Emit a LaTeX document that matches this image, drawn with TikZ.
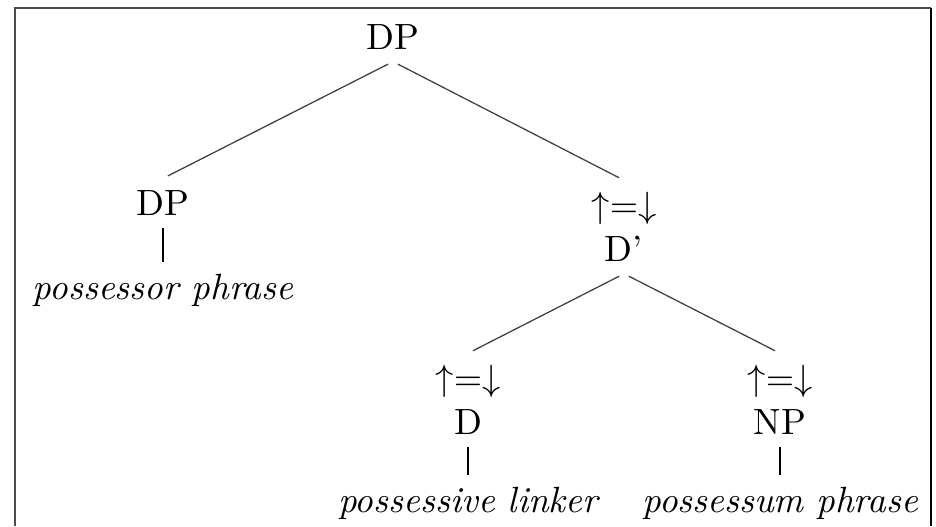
\documentclass[tikz,border=0pt]{standalone}
\usepackage{amssymb}
\usepackage{tikz}

\begin{document}
\begin{tikzpicture}[x=0.274pt, y=-0.274pt,
  every node/.style={inner sep=3.33pt, outer sep=0pt, align=center},
  branch/.style={draw=black!75, line width=0.35pt, shorten <=1.5pt, shorten >=1.5pt},
  stem/.style={draw=black, line width=0.8pt}]
\useasboundingbox (0,0) rectangle (936,526);
\draw[black!70, line width=0.6pt] (15,526) -- (15,8) -- (931,8);
\draw[black, line width=0.5pt] (931,8) -- (931,526);

\node (dp) at (393,37) {DP};
\node (poss) at (163,203) {DP};
\node (possp) at (163,290) {\itshape possessor phrase};
\node (dbar) at (624,227) {${\uparrow}{=}{\downarrow}$\\D'};
\node (d) at (468,400) {${\uparrow}{=}{\downarrow}$\\D};
\node (np) at (780,400) {${\uparrow}{=}{\downarrow}$\\NP};
\node (linker) at (468,503) {\itshape possessive linker};
\node (possm) at (780,503) {\itshape possessum phrase};

\draw[branch] (dp.south) -- (poss.north);
\draw[branch] (dp.south) -- (dbar.north);
\draw[branch] (dbar.south) -- (d.north);
\draw[branch] (dbar.south) -- (np.north);

\draw[stem] (poss.south) -- (poss.south |- possp.north);
\draw[stem] (d.south) -- (d.south |- linker.north);
\draw[stem] (np.south) -- (np.south |- possm.north);
\end{tikzpicture}
\end{document}
